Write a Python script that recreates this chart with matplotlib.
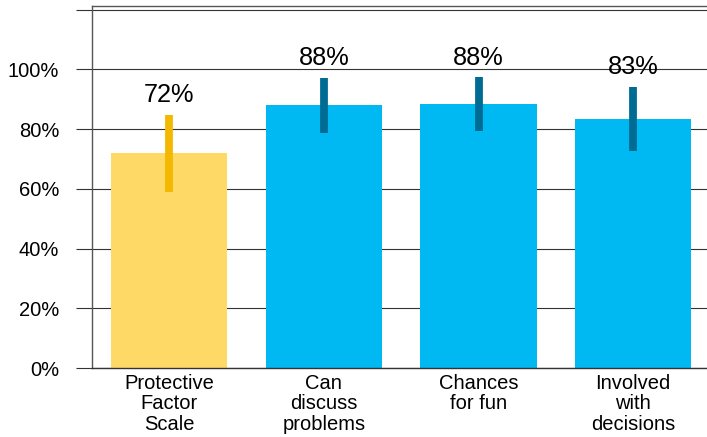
import matplotlib
matplotlib.use("Agg")
import matplotlib.pyplot as plt

plt.rcParams['font.family'] = ['Liberation Sans', 'DejaVu Sans']

categories = ["Protective\nFactor\nScale", "Can\ndiscuss\nproblems", "Chances\nfor fun", "Involved\nwith\ndecisions"]
values = [72.1, 88.2, 88.4, 83.4]
value_labels = ["72%", "88%", "88%", "83%"]
err_low = [59.0, 78.7, 79.2, 72.5]
err_high = [84.6, 97.1, 97.3, 94.2]
yticks = [0, 20, 40, 60, 80, 100, 120]
ytick_labels = ["0%", "20%", "40%", "60%", "80%", "100%", ""]

bar_colors = ["#FFD966", "#00B8F2", "#00B8F2", "#00B8F2"]
err_colors = ["#F4B800", "#006B93", "#006B93", "#006B93"]

fig = plt.figure(figsize=(7.07, 4.37), dpi=100)
ax = fig.add_axes([92 / 707, 69 / 437, (710.5 - 92) / 707, (368 - 5.7) / 437])

x = list(range(len(categories)))
ax.bar(x, values, width=0.752, color=bar_colors, zorder=2)
for i in x:
    ax.errorbar(i, values[i], yerr=[[values[i] - err_low[i]], [err_high[i] - values[i]]],
                fmt='none', ecolor=err_colors[i], elinewidth=5.6, capsize=0, zorder=3)
    ax.text(i, err_high[i] + 4.3, value_labels[i], ha='center', va='baseline',
            fontsize=18.3, color='black', zorder=4)

ax.set_xlim(-0.5, 3.5)
ax.set_ylim(0, 121.3)
ax.set_yticks(yticks)
ax.set_yticklabels(ytick_labels)
ax.set_xticks(x)
ax.set_xticklabels(categories, fontsize=14.5, linespacing=1.1, multialignment='center')

ax.yaxis.grid(True, color='#333333', linewidth=0.8, zorder=0)
ax.set_axisbelow(True)
ax.tick_params(axis='y', length=11.5, width=0.8, color='#333333', pad=12, labelsize=14.5)
ax.tick_params(axis='x', length=0, pad=4)

for side in ['left', 'top', 'right']:
    ax.spines[side].set_color('#555555')
    ax.spines[side].set_linewidth(1.0)
ax.spines['bottom'].set_color('#333333')
ax.spines['bottom'].set_linewidth(1.0)

fig.savefig("out.png", dpi=100)
